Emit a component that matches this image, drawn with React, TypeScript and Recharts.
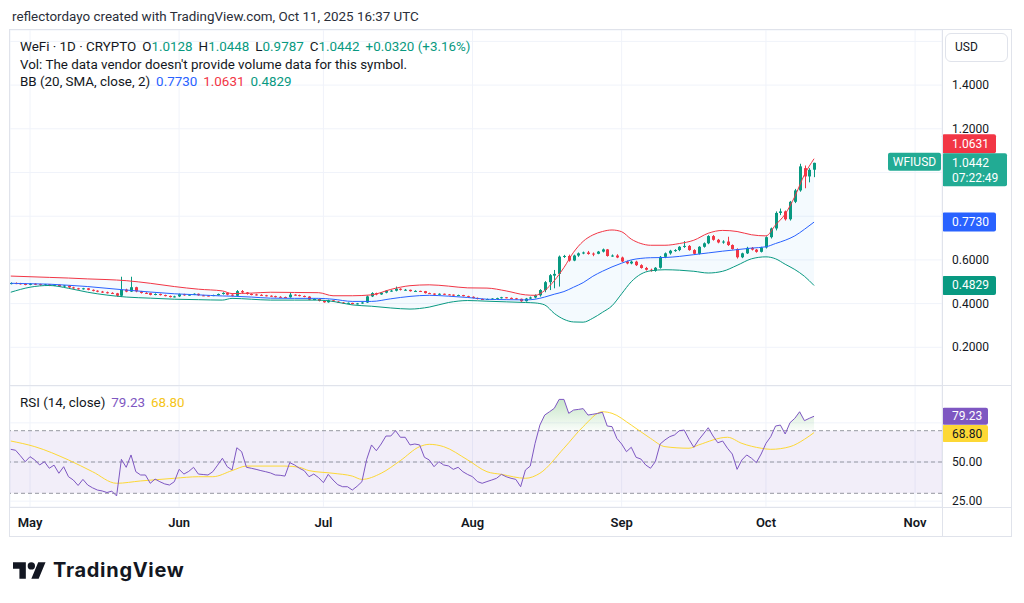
import React from "react";
import {
  ComposedChart,
  Bar,
  Line,
  Area,
  XAxis,
  YAxis,
  CartesianGrid,
  ReferenceLine,
  ReferenceArea,
} from "recharts";

const FONT = "Roboto, 'Noto Sans', Arial, sans-serif";
const TEXT = "#131722";
const UP = "#089981";
const DOWN = "#f23645";
const BASIS = "#2962ff";
const RSI_COLOR = "#7e57c2";
const MA_COLOR = "#fdd835";
const LAST = "#22ab94";
const GRID = "#f0f3fa";
const BORDER = "#e0e3eb";
const LEGEND_SIZE = 13.4;

// x is a day number, 0 = May 1 2025
const FIRST_DAY = -4;
const X_DOMAIN: [number, number] = [-4.16, 189.6];
const PRICE_DOMAIN: [number, number] = [0.0229, 1.6522];
const RSI_DOMAIN: [number, number] = [21.25, 98.56];

const PLOT_W = 932;
const AXIS_W = 70;
const MAIN_H = 356;
const RSI_H = 121;
const TIME_H = 29;

type OHLC = [number, number, number, number];

const aprCandles: OHLC[] = [
  [0.49, 0.497, 0.488, 0.494],
  [0.494, 0.497, 0.489, 0.493],
  [0.493, 0.495, 0.487, 0.49],
  [0.49, 0.493, 0.484, 0.486],
];

const mayCandles: OHLC[] = [
  [0.486, 0.494, 0.484, 0.491],
  [0.491, 0.493, 0.485, 0.489],
  [0.489, 0.491, 0.482, 0.485],
  [0.485, 0.49, 0.483, 0.488],
  [0.488, 0.489, 0.48, 0.482],
  [0.482, 0.488, 0.48, 0.486],
  [0.486, 0.487, 0.476, 0.478],
  [0.478, 0.485, 0.476, 0.483],
  [0.483, 0.484, 0.472, 0.474],
  [0.474, 0.477, 0.468, 0.47],
  [0.47, 0.472, 0.464, 0.466],
  [0.466, 0.472, 0.464, 0.47],
  [0.47, 0.471, 0.461, 0.463],
  [0.463, 0.465, 0.456, 0.459],
  [0.459, 0.461, 0.452, 0.455],
  [0.455, 0.458, 0.449, 0.452],
  [0.452, 0.455, 0.446, 0.449],
  [0.449, 0.452, 0.444, 0.447],
  [0.447, 0.449, 0.432, 0.436],
  [0.436, 0.523, 0.43, 0.464],
  [0.464, 0.468, 0.452, 0.455],
  [0.455, 0.523, 0.453, 0.475],
  [0.475, 0.477, 0.452, 0.456],
  [0.456, 0.458, 0.446, 0.449],
  [0.449, 0.452, 0.444, 0.448],
  [0.448, 0.45, 0.438, 0.44],
  [0.44, 0.447, 0.438, 0.444],
  [0.444, 0.446, 0.437, 0.439],
  [0.439, 0.441, 0.433, 0.435],
  [0.435, 0.437, 0.428, 0.43],
  [0.43, 0.436, 0.428, 0.433],
];

const junCandles: OHLC[] = [
  [0.433, 0.446, 0.43, 0.443],
  [0.443, 0.445, 0.436, 0.438],
  [0.438, 0.443, 0.436, 0.441],
  [0.441, 0.447, 0.439, 0.445],
  [0.445, 0.446, 0.436, 0.438],
  [0.438, 0.44, 0.434, 0.437],
  [0.437, 0.439, 0.433, 0.436],
  [0.436, 0.441, 0.434, 0.439],
  [0.439, 0.446, 0.437, 0.444],
  [0.444, 0.452, 0.441, 0.449],
  [0.449, 0.451, 0.438, 0.441],
  [0.441, 0.443, 0.433, 0.436],
  [0.436, 0.462, 0.434, 0.457],
  [0.457, 0.462, 0.448, 0.451],
  [0.451, 0.453, 0.441, 0.444],
  [0.444, 0.447, 0.438, 0.442],
  [0.442, 0.445, 0.437, 0.44],
  [0.44, 0.443, 0.435, 0.438],
  [0.438, 0.44, 0.433, 0.436],
  [0.436, 0.438, 0.431, 0.434],
  [0.434, 0.436, 0.428, 0.431],
  [0.431, 0.434, 0.428, 0.43],
  [0.43, 0.432, 0.426, 0.429],
  [0.429, 0.45, 0.427, 0.441],
  [0.441, 0.443, 0.436, 0.439],
  [0.439, 0.441, 0.433, 0.435],
  [0.435, 0.437, 0.429, 0.432],
  [0.432, 0.434, 0.416, 0.418],
  [0.418, 0.424, 0.416, 0.421],
  [0.421, 0.422, 0.41, 0.412],
];

const julCandles: OHLC[] = [
  [0.412, 0.414, 0.404, 0.406],
  [0.406, 0.418, 0.404, 0.415],
  [0.415, 0.416, 0.407, 0.409],
  [0.409, 0.411, 0.403, 0.405],
  [0.405, 0.407, 0.401, 0.403],
  [0.403, 0.405, 0.4, 0.4035],
  [0.403, 0.404, 0.396, 0.398],
  [0.398, 0.403, 0.396, 0.401],
  [0.401, 0.407, 0.399, 0.405],
  [0.405, 0.437, 0.403, 0.433],
  [0.433, 0.452, 0.43, 0.448],
  [0.448, 0.45, 0.438, 0.442],
  [0.442, 0.453, 0.44, 0.45],
  [0.45, 0.462, 0.447, 0.459],
  [0.459, 0.463, 0.454, 0.4595],
  [0.459, 0.478, 0.456, 0.468],
  [0.468, 0.47, 0.46, 0.463],
  [0.463, 0.467, 0.459, 0.4635],
  [0.463, 0.464, 0.455, 0.457],
  [0.457, 0.461, 0.455, 0.458],
  [0.458, 0.459, 0.453, 0.457],
  [0.457, 0.458, 0.446, 0.448],
  [0.448, 0.45, 0.444, 0.446],
  [0.446, 0.447, 0.439, 0.441],
  [0.441, 0.447, 0.44, 0.445],
  [0.445, 0.446, 0.44, 0.442],
  [0.442, 0.444, 0.439, 0.441],
  [0.441, 0.442, 0.435, 0.437],
  [0.437, 0.441, 0.436, 0.439],
  [0.439, 0.44, 0.433, 0.434],
  [0.434, 0.436, 0.429, 0.431],
];

const augCandles: OHLC[] = [
  [0.431, 0.433, 0.424, 0.426],
  [0.426, 0.428, 0.419, 0.421],
  [0.421, 0.423, 0.417, 0.419],
  [0.419, 0.423, 0.417, 0.421],
  [0.421, 0.425, 0.419, 0.423],
  [0.423, 0.427, 0.421, 0.425],
  [0.425, 0.431, 0.423, 0.429],
  [0.429, 0.43, 0.424, 0.426],
  [0.426, 0.428, 0.422, 0.424],
  [0.424, 0.426, 0.419, 0.422],
  [0.422, 0.423, 0.408, 0.411],
  [0.411, 0.426, 0.409, 0.423],
  [0.423, 0.432, 0.42, 0.428],
  [0.428, 0.442, 0.424, 0.438],
  [0.438, 0.466, 0.432, 0.462],
  [0.462, 0.503, 0.452, 0.498],
  [0.498, 0.535, 0.462, 0.53],
  [0.528, 0.554, 0.47, 0.536],
  [0.536, 0.62, 0.478, 0.615],
  [0.615, 0.623, 0.609, 0.618],
  [0.618, 0.624, 0.592, 0.597],
  [0.597, 0.624, 0.594, 0.62],
  [0.62, 0.634, 0.614, 0.63],
  [0.63, 0.638, 0.626, 0.634],
  [0.634, 0.641, 0.624, 0.627],
  [0.629, 0.634, 0.617, 0.628],
  [0.628, 0.641, 0.626, 0.638],
  [0.638, 0.652, 0.634, 0.648],
  [0.648, 0.65, 0.615, 0.618],
  [0.618, 0.625, 0.614, 0.62],
  [0.62, 0.626, 0.608, 0.611],
];

const sepCandles: OHLC[] = [
  [0.611, 0.615, 0.59, 0.593],
  [0.593, 0.597, 0.58, 0.584],
  [0.584, 0.597, 0.58, 0.592],
  [0.592, 0.596, 0.572, 0.576],
  [0.576, 0.58, 0.56, 0.563],
  [0.563, 0.568, 0.551, 0.555],
  [0.555, 0.56, 0.546, 0.55],
  [0.55, 0.567, 0.546, 0.564],
  [0.564, 0.618, 0.56, 0.614],
  [0.614, 0.634, 0.608, 0.63],
  [0.63, 0.646, 0.624, 0.642],
  [0.642, 0.649, 0.637, 0.645],
  [0.645, 0.663, 0.64, 0.66],
  [0.66, 0.686, 0.655, 0.664],
  [0.664, 0.668, 0.642, 0.645],
  [0.645, 0.649, 0.624, 0.628],
  [0.628, 0.663, 0.625, 0.66],
  [0.66, 0.68, 0.656, 0.676],
  [0.676, 0.713, 0.672, 0.709],
  [0.709, 0.714, 0.688, 0.692],
  [0.692, 0.696, 0.676, 0.68],
  [0.68, 0.69, 0.674, 0.684],
  [0.684, 0.706, 0.664, 0.668],
  [0.668, 0.671, 0.647, 0.65],
  [0.65, 0.653, 0.606, 0.612],
  [0.612, 0.633, 0.608, 0.63],
  [0.63, 0.66, 0.627, 0.655],
  [0.655, 0.659, 0.643, 0.647],
  [0.647, 0.65, 0.633, 0.637],
  [0.637, 0.66, 0.634, 0.657],
];

const octCandles: OHLC[] = [
  [0.657, 0.708, 0.652, 0.704],
  [0.704, 0.748, 0.698, 0.744],
  [0.744, 0.822, 0.735, 0.815],
  [0.815, 0.835, 0.805, 0.822],
  [0.822, 0.826, 0.78, 0.786],
  [0.786, 0.87, 0.78, 0.866],
  [0.866, 0.925, 0.86, 0.918],
  [0.918, 1.04, 0.912, 1.028],
  [1.02, 1.032, 0.928, 0.982],
  [0.982, 1.02, 0.955, 1.0122],
  [1.0128, 1.0448, 0.9787, 1.0442],
];

// RSI (14), one value per candle
const aprRsi = [58.1, 57.5, 54, 50.2];
const mayRsi = [
  53.4, 51.3, 48.1, 50.2, 46, 48, 42.8, 47, 40.6, 38.5, 35, 38.9, 35.3, 33.5, 32.1, 31.5,
  30.5, 31.4, 28.3, 51.7, 46.6, 54.5, 43.8, 41.7, 41.7, 36.4, 39.1, 37.4, 36, 35.3, 37.4,
];
const junRsi = [
  45.3, 42.3, 44, 46.6, 42.3, 42, 41.7, 43.8, 48, 52.4, 47, 44.9, 59.1, 56.6, 46.6, 46, 45.3,
  44.5, 43.8, 43, 41.7, 41.5, 41, 49.6, 48.1, 46, 44.5, 40.6, 42.3, 40,
];
const julRsi = [
  36.8, 42.1, 38.5, 35.5, 34.2, 34.2, 32.1, 34.5, 37.4, 51.7, 60.9, 57.2, 61.5, 66.6, 66.6, 70,
  65.8, 65.8, 60.9, 61.5, 60.9, 53, 51.3, 47, 50.2, 48.1, 47.5, 45.3, 46.6, 43.8, 42,
];
const augRsi = [
  40.6, 37.5, 36.4, 37.5, 38.5, 39.6, 42.1, 40.6, 39.6, 38.9, 34.2, 44.9, 47.4, 61.9, 73.6, 80,
  82.1, 84.3, 90, 90, 81.1, 83.2, 83.6, 84.1, 80, 80.5, 81, 81.8, 73, 72.6, 65.1,
];
const sepRsi = [
  61.5, 56.6, 59.4, 53, 51.9, 48.1, 46, 50.2, 61.5, 64.1, 66.2, 67.3, 70, 70.4, 64.5, 59.4, 64.1,
  67.9, 71.9, 66.6, 62.3, 63.4, 58.8, 55.1, 45.3, 51.3, 54.5, 52.4, 49.6, 55.1,
];
const octRsi = [61.9, 66.2, 73, 73.6, 67.9, 75.1, 77.9, 82.1, 76.4, 77.9, 79.23];

// RSI moving average, read at these days
const maDays = [
  -4, 1, 8, 13, 18, 23, 30, 35, 38, 42, 45, 53, 56, 58, 63, 67, 69, 73, 77, 81, 83, 86, 91, 95, 98,
  103, 106, 111, 115, 119, 121, 125, 129, 132, 137, 139, 145, 148, 152, 154, 158, 161, 163,
];
const maValues = [
  63.4, 59.8, 51.3, 43.8, 36.4, 37.9, 39.6, 40.6, 40.6, 44.5, 47.4, 47.4, 46.6, 44.5, 42.8, 41,
  38.9, 42.8, 50.9, 59.8, 61.3, 59.8, 51.3, 43.8, 42.1, 39.6, 42.8, 58.8, 72.6, 82.1, 81.1, 73.6,
  65.1, 59.8, 58.8, 60.9, 65.8, 61.9, 58.8, 58.1, 59.8, 64.5, 68.8,
];

// Bollinger Bands (20, 2), read at these days
const bbDays = [
  -4, 0, 4, 8, 12, 16, 20, 25, 30, 35, 40, 42, 46, 50, 55, 60, 63, 67, 71, 75, 79, 83, 87, 91, 95,
  99, 103, 105, 107, 109, 111, 113, 115, 117, 119, 121, 123, 125, 127, 129, 132, 135, 138, 141,
  144, 147, 150, 153, 155, 157, 159, 161, 163,
];
const bbUpper = [
  0.526, 0.523, 0.52, 0.517, 0.513, 0.51, 0.505, 0.493, 0.478, 0.466, 0.458, 0.446, 0.448, 0.452,
  0.451, 0.45, 0.436, 0.436, 0.44, 0.465, 0.482, 0.486, 0.48, 0.472, 0.471, 0.458, 0.44, 0.438,
  0.46, 0.505, 0.565, 0.635, 0.685, 0.714, 0.73, 0.737, 0.729, 0.695, 0.675, 0.667, 0.667, 0.675,
  0.69, 0.722, 0.735, 0.73, 0.715, 0.71, 0.76, 0.81, 0.89, 0.99, 1.0631,
];
const bbBasis = [
  0.493, 0.491, 0.489, 0.484, 0.478, 0.47, 0.462, 0.453, 0.445, 0.44, 0.435, 0.434, 0.43, 0.425,
  0.424, 0.424, 0.42, 0.41, 0.41, 0.422, 0.433, 0.438, 0.434, 0.428, 0.42, 0.418, 0.417, 0.42,
  0.43, 0.443, 0.455, 0.475, 0.496, 0.525, 0.548, 0.568, 0.585, 0.6, 0.607, 0.61, 0.611, 0.616,
  0.624, 0.632, 0.64, 0.647, 0.654, 0.66, 0.675, 0.69, 0.71, 0.74, 0.773,
];
const bbLower = [
  0.452, 0.475, 0.483, 0.47, 0.452, 0.439, 0.43, 0.425, 0.42, 0.418, 0.416, 0.424, 0.42, 0.416,
  0.416, 0.416, 0.41, 0.394, 0.388, 0.38, 0.375, 0.384, 0.405, 0.414, 0.411, 0.408, 0.405, 0.403,
  0.394, 0.355, 0.328, 0.316, 0.315, 0.333, 0.36, 0.39, 0.445, 0.5, 0.535, 0.55, 0.555, 0.553,
  0.548, 0.54, 0.548, 0.575, 0.605, 0.614, 0.605, 0.58, 0.556, 0.525, 0.4829,
];

const monthTicks = [0, 31, 61, 92, 123, 153, 184];
const monthLabels = ["May", "Jun", "Jul", "Aug", "Sep", "Oct", "Nov"];
const priceTicks = [0.2, 0.4, 0.6, 0.8, 1.0, 1.2, 1.4, 1.6];
const rsiTicks = [25, 50, 75];
// scale labels that sit under the value tags / currency box are not printed
const coveredPriceTicks = [0.8, 1.0, 1.6];
const coveredRsiTicks = [75];

type Row = {
  d: number;
  o: number;
  h: number;
  l: number;
  c: number;
  rsi: number;
  upper?: number;
  basis?: number;
  lower?: number;
  band?: [number, number];
  ma?: number;
};

const candles = [
  ...aprCandles,
  ...mayCandles,
  ...junCandles,
  ...julCandles,
  ...augCandles,
  ...sepCandles,
  ...octCandles,
];
const rsiValues = [...aprRsi, ...mayRsi, ...junRsi, ...julRsi, ...augRsi, ...sepRsi, ...octRsi];

const rows: Row[] = candles.map(([o, h, l, c], i) => ({
  d: FIRST_DAY + i,
  o,
  h,
  l,
  c,
  rsi: rsiValues[i],
}));
bbDays.forEach((day, i) => {
  const r = rows[day - FIRST_DAY];
  r.upper = bbUpper[i];
  r.basis = bbBasis[i];
  r.lower = bbLower[i];
  r.band = [bbLower[i], bbUpper[i]];
});
maDays.forEach((day, i) => {
  rows[day - FIRST_DAY].ma = maValues[i];
});

const last = rows[rows.length - 1];
const prev = rows[rows.length - 2];
const change = last.c - prev.c;
const changePct = (change / prev.c) * 100;
const lastUpper = bbUpper[bbUpper.length - 1];
const lastBasis = bbBasis[bbBasis.length - 1];
const lastLower = bbLower[bbLower.length - 1];
const lastRsi = rsiValues[rsiValues.length - 1];
const lastMa = maValues[maValues.length - 1];

// y of an RSI level inside the rsi pane svg (top margin is 0)
const rsiY = (v: number) => ((RSI_DOMAIN[1] - v) / (RSI_DOMAIN[1] - RSI_DOMAIN[0])) * RSI_H;

function Candle(props: any) {
  const { x, y, width, height, payload } = props;
  if (!payload || payload.h == null) return null;
  const { o, h, l, c } = payload as Row;
  const top = Math.min(y, y + height);
  const span = Math.abs(height);
  const perUnit = h === l ? 0 : span / (h - l);
  const yOf = (v: number) => top + (h - v) * perUnit;
  const color = c >= o ? UP : DOWN;
  const cx = Math.round(x + width / 2);
  const bodyTop = yOf(Math.max(o, c));
  const bodyH = Math.max(1, yOf(Math.min(o, c)) - bodyTop);
  return (
    <g>
      <line x1={cx + 0.5} x2={cx + 0.5} y1={top} y2={top + span} stroke={color} strokeWidth={1} />
      <rect x={cx - 1} y={bodyTop} width={3} height={bodyH} fill={color} />
    </g>
  );
}

function AxisTag(props: any) {
  const { viewBox, text, sub, fill, color = "#fff", width = 54, height = 19, nudge = 0 } = props;
  if (!viewBox) return null;
  const x = viewBox.x + viewBox.width;
  const h = sub ? height + 14 : height;
  const top = viewBox.y - height / 2 + nudge;
  return (
    <g fontFamily={FONT} fontSize={12}>
      <rect x={x} y={top} width={width} height={h} rx={2} fill={fill} />
      <text x={x + 10} y={top + height / 2} dominantBaseline="central" fill={color}>
        {text}
      </text>
      {sub && (
        <text x={x + 10} y={top + height / 2 + 15} dominantBaseline="central" fill={color}>
          {sub}
        </text>
      )}
    </g>
  );
}

function SymbolTag(props: any) {
  const { viewBox, text, fill } = props;
  if (!viewBox) return null;
  const right = viewBox.x + viewBox.width;
  return (
    <g fontFamily={FONT} fontSize={12}>
      <rect x={right - 54} y={viewBox.y - 10} width={53} height={18} rx={2} fill={fill} />
      <text x={right - 27.5} y={viewBox.y - 1} textAnchor="middle" dominantBaseline="central" fill="#fff">
        {text}
      </text>
    </g>
  );
}

const priceTick = (p: any) => {
  const v = Number(p.payload.value);
  if (coveredPriceTicks.some((t) => Math.abs(t - v) < 1e-6)) return <g />;
  return (
    <text x={p.x} y={p.y} dominantBaseline="central" fill={TEXT} fontSize={12} fontFamily={FONT}>
      {v.toFixed(4)}
    </text>
  );
};

const rsiTick = (p: any) => {
  const v = Number(p.payload.value);
  if (coveredRsiTicks.includes(v)) return <g />;
  return (
    <text x={p.x} y={p.y} dominantBaseline="central" fill={TEXT} fontSize={12} fontFamily={FONT}>
      {v.toFixed(2)}
    </text>
  );
};

const monthTick = (p: any) => {
  const idx = monthTicks.indexOf(p.payload.value);
  return (
    <text x={p.x} y={p.y + 20} textAnchor="middle" fill={TEXT} fontSize={13} fontWeight={600} fontFamily={FONT}>
      {idx >= 0 ? monthLabels[idx] : ""}
    </text>
  );
};

const hline = (top: number, left = 10, width = 1002) => (
  <div style={{ position: "absolute", left, top, width, height: 1, background: BORDER }} />
);

const legendLine = (top: number) => ({
  position: "absolute" as const,
  left: 20,
  top,
  fontSize: LEGEND_SIZE,
  lineHeight: "18px",
  whiteSpace: "pre" as const,
});

export default function App() {
  return (
    <div
      style={{
        position: "absolute",
        left: 0,
        top: 0,
        width: 1024,
        height: 603,
        background: "#fff",
        fontFamily: FONT,
        color: TEXT,
        overflow: "hidden",
      }}
    >
      <div style={{ position: "absolute", left: 12, top: 8, fontSize: LEGEND_SIZE, lineHeight: "18px", color: "#2a2e39" }}>
        reflectordayo created with TradingView.com, Oct 11, 2025 16:37 UTC
      </div>

      {/* price pane */}
      <div style={{ position: "absolute", left: 10, top: 30 }}>
        <ComposedChart width={PLOT_W + AXIS_W} height={MAIN_H} data={rows} margin={{ top: 0, right: 0, bottom: 0, left: 0 }}>
          <CartesianGrid stroke={GRID} />
          <XAxis dataKey="d" type="number" domain={X_DOMAIN} ticks={monthTicks} allowDataOverflow hide />
          <YAxis
            orientation="right"
            width={AXIS_W}
            domain={PRICE_DOMAIN}
            ticks={priceTicks}
            allowDataOverflow
            interval={0}
            axisLine={false}
            tickLine={false}
            tickSize={0}
            tickMargin={10}
            tick={priceTick}
          />
          <Area
            dataKey="band"
            type="monotone"
            connectNulls
            fill="#2196f3"
            fillOpacity={0.05}
            stroke="none"
            isAnimationActive={false}
            activeDot={false}
          />
          <Line dataKey="upper" type="monotone" connectNulls stroke={DOWN} strokeWidth={1} dot={false} activeDot={false} isAnimationActive={false} />
          <Line dataKey="basis" type="monotone" connectNulls stroke={BASIS} strokeWidth={1} dot={false} activeDot={false} isAnimationActive={false} />
          <Line dataKey="lower" type="monotone" connectNulls stroke={UP} strokeWidth={1} dot={false} activeDot={false} isAnimationActive={false} />
          <Bar dataKey={(r: Row) => [r.l, r.h]} barSize={3} shape={<Candle />} isAnimationActive={false} />
          {/* upper band tag sits just above the last-price tag */}
          <ReferenceLine y={lastUpper} stroke="none" label={<AxisTag text={lastUpper.toFixed(4)} fill={DOWN} nudge={-15} />} />
          <ReferenceLine y={last.c} stroke="none" label={<AxisTag text={last.c.toFixed(4)} sub="07:22:49" fill={LAST} width={65} />} />
          <ReferenceLine y={last.c} stroke="none" label={<SymbolTag text="WFIUSD" fill={LAST} />} />
          <ReferenceLine y={lastBasis} stroke="none" label={<AxisTag text={lastBasis.toFixed(4)} fill={BASIS} />} />
          <ReferenceLine y={lastLower} stroke="none" label={<AxisTag text={lastLower.toFixed(4)} fill={UP} />} />
        </ComposedChart>
      </div>

      {/* rsi pane + time scale */}
      <div style={{ position: "absolute", left: 10, top: 386 }}>
        <ComposedChart width={PLOT_W + AXIS_W} height={RSI_H + TIME_H} data={rows} margin={{ top: 0, right: 0, bottom: 0, left: 0 }}>
          <defs>
            <linearGradient id="rsiOverbought" gradientUnits="userSpaceOnUse" x1="0" x2="0" y1={rsiY(100)} y2={rsiY(70)}>
              <stop offset="0" stopColor="#4caf50" stopOpacity={0.45} />
              <stop offset="1" stopColor="#4caf50" stopOpacity={0.03} />
              <stop offset="1" stopColor="#4caf50" stopOpacity={0} />
            </linearGradient>
          </defs>
          <CartesianGrid stroke={GRID} />
          <XAxis
            dataKey="d"
            type="number"
            domain={X_DOMAIN}
            ticks={monthTicks}
            allowDataOverflow
            interval={0}
            height={TIME_H}
            axisLine={false}
            tickLine={false}
            tickSize={0}
            tickMargin={0}
            tick={monthTick}
          />
          <YAxis
            orientation="right"
            width={AXIS_W}
            domain={RSI_DOMAIN}
            ticks={rsiTicks}
            allowDataOverflow
            interval={0}
            axisLine={false}
            tickLine={false}
            tickSize={0}
            tickMargin={10}
            tick={rsiTick}
          />
          <ReferenceArea y1={30} y2={70} fill={RSI_COLOR} fillOpacity={0.1} stroke="none" />
          <ReferenceLine y={70} stroke="#9598a1" strokeDasharray="4 3" />
          <ReferenceLine y={50} stroke="#9598a1" strokeDasharray="4 3" />
          <ReferenceLine y={30} stroke="#9598a1" strokeDasharray="4 3" />
          <Area
            dataKey="rsi"
            type="linear"
            baseValue={70}
            fill="url(#rsiOverbought)"
            fillOpacity={1}
            stroke="none"
            isAnimationActive={false}
            activeDot={false}
          />
          <Line dataKey="ma" type="monotone" connectNulls stroke={MA_COLOR} strokeWidth={1} dot={false} activeDot={false} isAnimationActive={false} />
          <Line dataKey="rsi" type="linear" stroke={RSI_COLOR} strokeWidth={1} dot={false} activeDot={false} isAnimationActive={false} />
          <ReferenceLine y={lastRsi} stroke="none" label={<AxisTag text={lastRsi.toFixed(2)} fill={RSI_COLOR} width={46} height={17} />} />
          <ReferenceLine y={lastMa} stroke="none" label={<AxisTag text={lastMa.toFixed(2)} fill={MA_COLOR} color={TEXT} width={46} height={17} nudge={1} />} />
        </ComposedChart>
      </div>

      {/* frame and pane separators */}
      <div
        style={{
          position: "absolute",
          left: 9,
          top: 29,
          width: 1003,
          height: 508,
          border: `1px solid ${BORDER}`,
          boxSizing: "border-box",
          pointerEvents: "none",
        }}
      />
      {hline(385)}
      {hline(507)}
      <div style={{ position: "absolute", left: 942, top: 30, width: 1, height: 506, background: BORDER }} />

      <div
        style={{
          position: "absolute",
          left: 945,
          top: 33,
          width: 63,
          height: 29,
          boxSizing: "border-box",
          border: `1px solid ${BORDER}`,
          borderRadius: 6,
          background: "#fff",
          fontSize: 12,
          lineHeight: "27px",
          paddingLeft: 9,
        }}
      >
        USD
      </div>

      {/* legends */}
      <div style={legendLine(38)}>
        WeFi · 1D · CRYPTO
        <span style={{ marginLeft: 6 }}>O</span>
        <span style={{ color: UP }}>{last.o.toFixed(4)}</span>
        <span style={{ marginLeft: 6 }}>H</span>
        <span style={{ color: UP }}>{last.h.toFixed(4)}</span>
        <span style={{ marginLeft: 6 }}>L</span>
        <span style={{ color: UP }}>{last.l.toFixed(4)}</span>
        <span style={{ marginLeft: 6 }}>C</span>
        <span style={{ color: UP }}>{last.c.toFixed(4)}</span>
        <span style={{ marginLeft: 6, color: UP }}>
          +{change.toFixed(4)} (+{changePct.toFixed(2)}%)
        </span>
      </div>
      <div style={legendLine(56)}>Vol: The data vendor doesn't provide volume data for this symbol.</div>
      <div style={legendLine(73)}>
        BB (20, SMA, close, 2)
        <span style={{ marginLeft: 6, color: BASIS }}>{lastBasis.toFixed(4)}</span>
        <span style={{ marginLeft: 6, color: DOWN }}>{lastUpper.toFixed(4)}</span>
        <span style={{ marginLeft: 6, color: UP }}>{lastLower.toFixed(4)}</span>
      </div>
      <div style={legendLine(394)}>
        RSI (14, close)
        <span style={{ marginLeft: 6, color: RSI_COLOR }}>{lastRsi.toFixed(2)}</span>
        <span style={{ marginLeft: 6, color: "#f5c518" }}>{lastMa.toFixed(2)}</span>
      </div>

      {/* wordmark */}
      <div style={{ position: "absolute", left: 13, top: 560, display: "flex", alignItems: "center" }}>
        <svg width={33} height={17} viewBox="0 4 36 18">
          <path d="M14 22H7V11H0V4h14v18zM28 22h-8l7.5-18h8L28 22z" fill={TEXT} />
          <circle cx={20} cy={8} r={4} fill={TEXT} />
        </svg>
        <span
          style={{
            marginLeft: 7,
            fontFamily: "Inter, Roboto, sans-serif",
            fontWeight: 700,
            fontSize: 20,
            letterSpacing: 0.7,
            lineHeight: "20px",
          }}
        >
          TradingView
        </span>
      </div>
    </div>
  );
}
